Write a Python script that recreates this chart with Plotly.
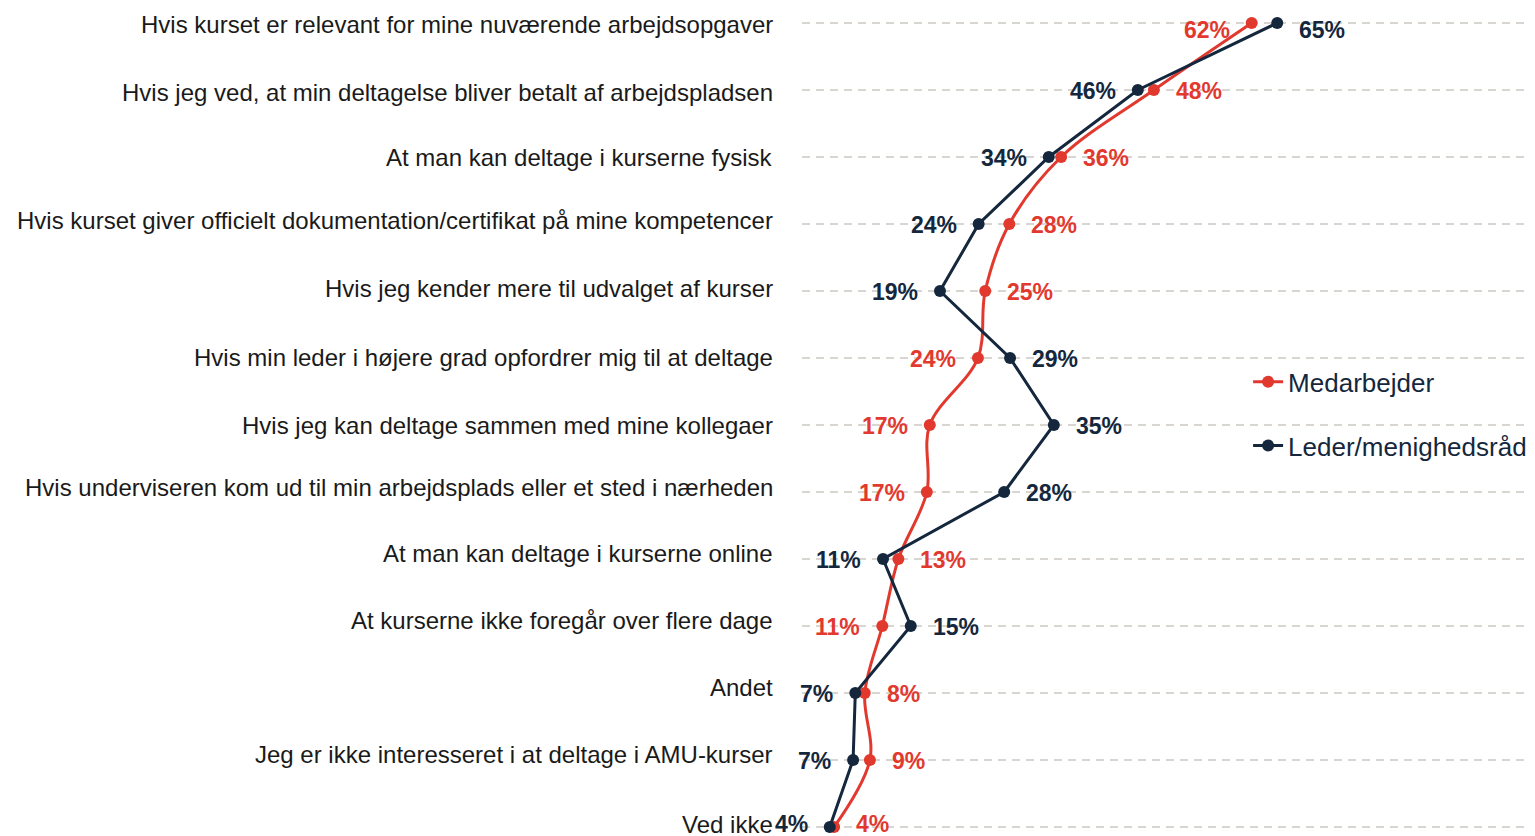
import plotly.graph_objects as go

categories = [
    "Hvis kurset er relevant for mine nuværende arbejdsopgaver",
    "Hvis jeg ved, at min deltagelse bliver betalt af arbejdspladsen",
    "At man kan deltage i kurserne fysisk",
    "Hvis kurset giver officielt dokumentation/certifikat på mine kompetencer",
    "Hvis jeg kender mere til udvalget af kurser",
    "Hvis min leder i højere grad opfordrer mig til at deltage",
    "Hvis jeg kan deltage sammen med mine kollegaer",
    "Hvis underviseren kom ud til min arbejdsplads eller et sted i nærheden",
    "At man kan deltage i kurserne online",
    "At kurserne ikke foregår over flere dage",
    "Andet",
    "Jeg er ikke interesseret i at deltage i AMU-kurser",
    "Ved ikke",
]
medarbejder = [61.6, 48.2, 35.5, 28.4, 25.1, 24.1, 17.5, 17.1, 13.2, 11.0, 8.6, 9.3, 4.4]
medarbejder_labels = ["62%", "48%", "36%", "28%", "25%", "24%", "17%", "17%", "13%", "11%", "8%", "9%", "4%"]
leder = [65.1, 46.0, 33.8, 24.2, 18.9, 28.5, 34.5, 27.7, 11.1, 14.9, 7.3, 7.0, 3.8]
leder_labels = ["65%", "46%", "34%", "24%", "19%", "29%", "35%", "28%", "11%", "15%", "7%", "7%", "4%"]

# vertical nudges (px) of the category labels, as placed in the original
label_yshift = [-1.5, -2.5, -0.5, 4, 2, 0, -1, 4, 5.5, 5, 5.5, 5.5, 2.5]

RED = "#E2392F"
NAVY = "#14273D"
GRID = "#D9D6D1"
FONT = "Liberation Sans, Arial, sans-serif"

n = len(categories)
ys = list(range(n))

fig = go.Figure()
fig.add_trace(go.Scatter(
    x=medarbejder, y=ys, mode="lines+markers", name="Medarbejder",
    line=dict(color=RED, width=3, shape="spline", smoothing=1.0),
    marker=dict(color=RED, size=12), legendgroup="a",
))
fig.add_trace(go.Scatter(
    x=leder, y=ys, mode="lines+markers", name="Leder/menighedsråd",
    line=dict(color=NAVY, width=3),
    marker=dict(color=NAVY, size=12), legendgroup="b",
))

annotations = []
for i in range(n):
    m, l = medarbejder[i], leder[i]
    ysh = -1
    if i == 0:
        ysh = -7
    elif i == n - 1:
        ysh = 3
    for val, lab, col, other in ((m, medarbejder_labels[i], RED, l), (l, leder_labels[i], NAVY, m)):
        right = val >= other
        annotations.append(dict(
            x=val, y=i, xref="x", yref="y", text=lab, showarrow=False,
            xanchor="left" if right else "right", xshift=20 if right else -20, yshift=ysh,
            font=dict(family=FONT, size=23, color=col, weight="bold"),
        ))
    annotations.append(dict(
        x=0, y=i, xref="paper", yref="y", text=categories[i], showarrow=False,
        xanchor="right", xshift=-27, yshift=label_yshift[i],
        font=dict(family=FONT, size=24, color="#1a1a1a"),
    ))

fig.update_layout(
    width=1535, height=836,
    margin=dict(l=794, r=18, t=0, b=0, autoexpand=False),
    paper_bgcolor="white", plot_bgcolor="white",
    font=dict(family=FONT),
    xaxis=dict(range=[0, 99.04], showgrid=False, zeroline=False, showticklabels=False,
               showline=False, fixedrange=True),
    yaxis=dict(range=[12.254, -0.2239], tickvals=ys, showticklabels=False,
               showgrid=True, gridcolor=GRID, gridwidth=1.5, griddash="8px,6px",
               zeroline=False, showline=False, fixedrange=True),
    legend=dict(x=0.617, y=0.581, xanchor="left", yanchor="top",
                font=dict(family=FONT, size=26, color=NAVY),
                bgcolor="rgba(0,0,0,0)", traceorder="grouped", tracegroupgap=27),
    annotations=annotations,
    showlegend=True,
)

fig.write_html("out.html")
